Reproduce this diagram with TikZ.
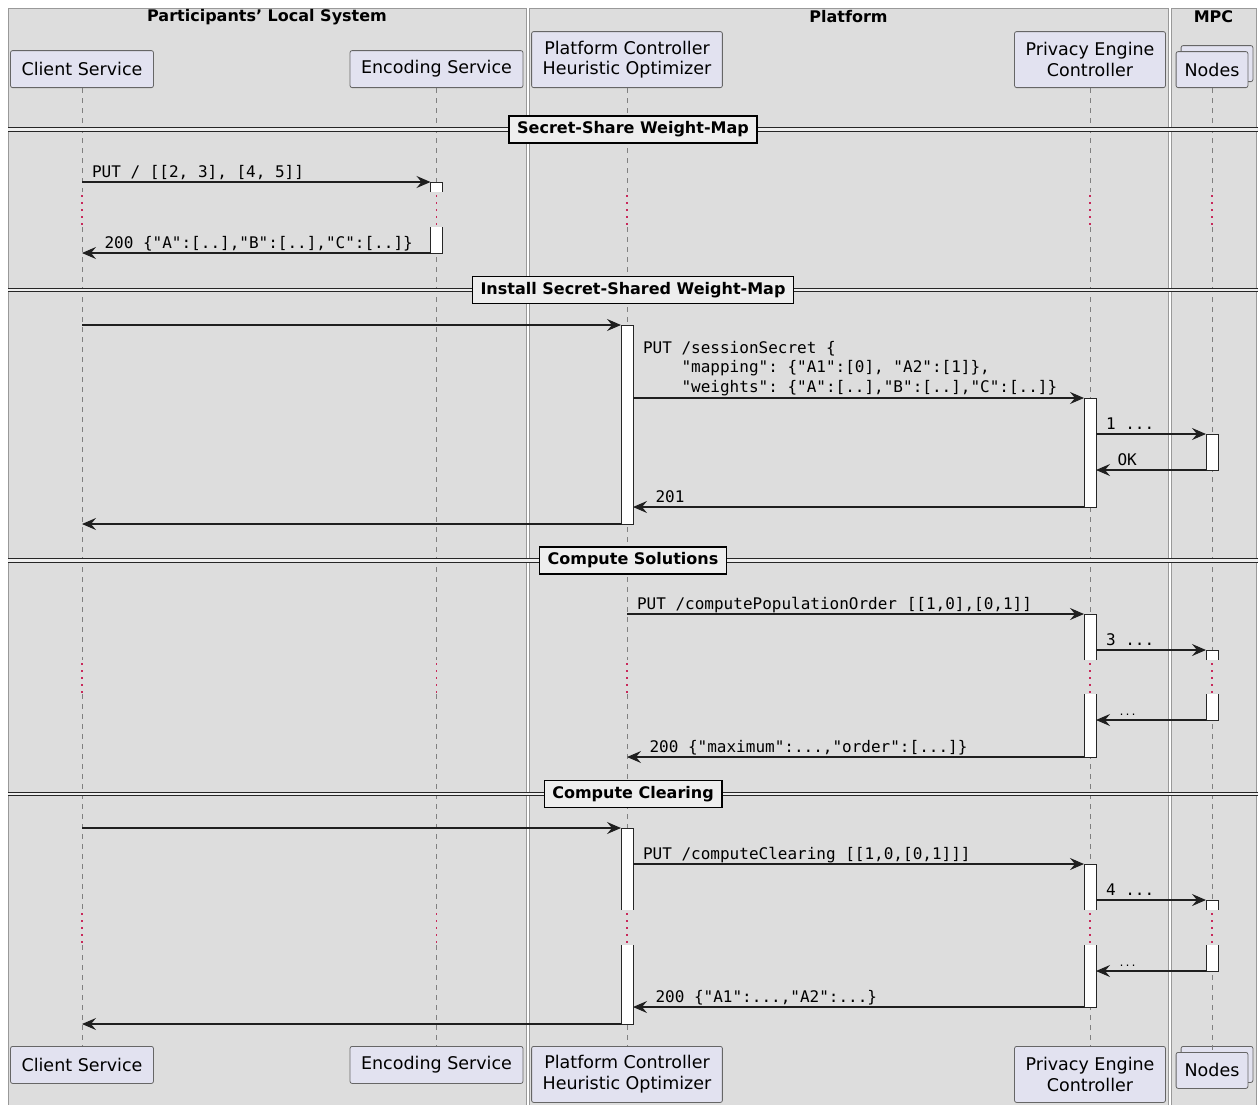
\documentclass[tikz,border=0pt]{standalone}
\usepackage{fontspec}
\setmainfont{DejaVu Sans}
\setmonofont{DejaVu Sans Mono}
\usetikzlibrary{positioning,arrows.meta,shadows}
\definecolor{grpfill}{HTML}{DDDDDD}
\definecolor{partfill}{HTML}{E2E2F0}
\definecolor{sepfill}{HTML}{EEEEEE}
\definecolor{delayred}{HTML}{C8285A}
\newcommand{\partfont}{\fontsize{17.5}{20.5}\selectfont}
\newcommand{\msgfont}{\ttfamily\fontsize{16}{19.5}\selectfont}
\newcommand{\grpfont}{\bfseries\fontsize{16}{19}\selectfont}
\tikzset{
  grp/.style={draw=black!40,fill=grpfill,line width=0.9pt},
  grptitle/.style={font=\grpfont,inner sep=0pt},
  part/.style={draw=black!60,fill=partfill,rounded corners=2pt,line width=0.8pt,font=\partfont,align=center,inner xsep=11pt,minimum height=37pt},
  life/.style={draw=black!50,line width=0.8pt,dash pattern=on 5pt off 5pt},
  delay/.style={draw=delayred,line width=1.5pt,dash pattern=on 1.5pt off 5.5pt},
  dline/.style={draw=black!85,double=sepfill,double distance=2.4pt,line width=0.9pt},
  sepbox/.style={draw=black,line width=1.6pt,fill=sepfill,font=\grpfont,minimum height=27pt,inner xsep=8pt},
  act/.style={fill=white,minimum width=12pt,inner sep=0pt,outer sep=0pt},
  actfull/.style={act,draw=black!85,line width=0.9pt},
  actline/.style={draw=black!85,line width=0.9pt},
  msg/.style={draw=black!88,line width=1.1pt,-{Stealth[length=14pt,width=12pt,inset=5pt]}},
  lbl/.style={font=\msgfont,anchor=base west,inner sep=0pt,yshift=5pt}
}

\begin{document}
\begin{tikzpicture}[x=1pt,y=-1pt]
\fill[white] (0,0) rectangle (1258,1104);
\useasboundingbox (0,0) rectangle (1258,1104);

\draw[grp] (8,8) rectangle (526,1110);
\draw[grp] (529,8) rectangle (1168,1110);
\draw[grp] (1171,8) rectangle (1256,1110);
\node[grptitle] (g1) at (267,17) {Participants’ Local System};
\node[grptitle] (g2) at (848.5,17) {Platform};
\node[grptitle] (g3) at (1213.5,17) {MPC};

\node[part,anchor=south] (cs) at (82,88) {Client Service};
\node[part,anchor=south] (es) at (436.5,88) {Encoding Service};
\node[part,anchor=south,minimum height=56pt] (pc) at (627,88) {Platform Controller\\Heuristic Optimizer};
\node[part,anchor=south,minimum height=56pt] (pe) at (1090,88) {Privacy Engine\\Controller};
\node[part,anchor=south,minimum height=36pt,inner xsep=8.5pt,copy shadow={shadow xshift=5pt,shadow yshift=6pt}] (nd) at (1212,88) {Nodes};

\node[part,anchor=north] (cs2) at (82,1046) {Client Service};
\node[part,anchor=north] (es2) at (436.5,1046) {Encoding Service};
\node[part,anchor=north,minimum height=56pt] (pc2) at (627,1046) {Platform Controller\\Heuristic Optimizer};
\node[part,anchor=north,minimum height=56pt] (pe2) at (1090,1046) {Privacy Engine\\Controller};
\node[part,anchor=north,minimum height=36pt,inner xsep=8.5pt,copy shadow={shadow xshift=5pt,shadow yshift=6pt}] (nd2) at (1212,1052) {Nodes};

\foreach \p in {cs,es,pc,pe,nd}{
  \draw[life] (\p.south) -- (\p |- 0,192) (\p |- 0,227) -- (\p |- 0,660)
    (\p |- 0,694) -- (\p |- 0,910) (\p |- 0,945) -- (\p2.north);
  \draw[delay] (\p |- 0,195) -- (\p |- 0,227) (\p |- 0,663) -- (\p |- 0,694)
    (\p |- 0,913) -- (\p |- 0,945);
}

\draw[dline] (8,129.5) -- (1258,129.5);
\node[sepbox] (s1) at (633,129.5) {Secret-Share Weight-Map};
\draw[dline] (8,290) -- (1258,290);
\node[sepbox] (s2) at (633,290) {Install Secret-Shared Weight-Map};
\draw[dline] (8,560.5) -- (1258,560.5);
\node[sepbox] (s3) at (633,560.5) {Compute Solutions};
\draw[dline] (8,794) -- (1258,794);
\node[sepbox] (s4) at (633,794) {Compute Clearing};

\node[act,minimum height=10pt] (A1) at (436.5,187) {};
\node[act,minimum height=26pt] (A2) at (436.5,240) {};
\node[actfull,minimum height=199pt] (B) at (627,424.5) {};
\node[actfull,minimum height=109pt] (C) at (1090,452.5) {};
\node[actfull,minimum height=36pt] (D) at (1212,452) {};
\node[act,minimum height=46pt] (E1) at (1090,637) {};
\node[act,minimum height=63pt] (E2) at (1090,725.5) {};
\node[act,minimum height=10pt] (F1) at (1212,655) {};
\node[act,minimum height=26pt] (F2) at (1212,707) {};
\node[act,minimum height=82pt] (G1) at (627,869) {};
\node[act,minimum height=79pt] (G2) at (627,984.5) {};
\node[act,minimum height=46pt] (H1) at (1090,887) {};
\node[act,minimum height=62pt] (H2) at (1090,976) {};
\node[act,minimum height=10pt] (I1) at (1212,905) {};
\node[act,minimum height=26pt] (I2) at (1212,958) {};
\foreach \b in {A1,E1,F1,G1,H1,I1}
  \draw[actline] (\b.south west) |- (\b.north east) -- (\b.south east);
\foreach \b in {A2,E2,F2,G2,H2,I2}
  \draw[actline] (\b.north west) |- (\b.south east) -- (\b.north east);

% Secret-Share Weight-Map
\draw[msg] (cs |- A1.north) node[lbl,xshift=9.5pt] (m1) {PUT / [[2, 3], [4, 5]]} -- (A1.north west);
\draw[msg] (A2.south west) -- (cs |- A2.south) node[lbl,xshift=22pt] (m2) {200 \{"A":[..],"B":[..],"C":[..]\}};

% Install Secret-Shared Weight-Map
\draw[msg] (cs |- B.north) -- (B.north west);
\draw[msg] (B.east |- C.north) node[font=\msgfont,anchor=south west,align=left,inner sep=0pt,xshift=9.5pt,yshift=2pt] (m4) {PUT /sessionSecret \{\\\hphantom{PUTx}"mapping": \{"A1":[0], "A2":[1]\},\\\hphantom{PUTx}"weights": \{"A":[..],"B":[..],"C":[..]\}} -- (C.north west);
\draw[msg] (C.east |- D.north) node[lbl,xshift=9.5pt] (m5) {1 ...} -- (D.north west);
\draw[msg] (D.south west) -- (C.east |- D.south) node[lbl,xshift=21pt] (m6) {OK};
\draw[msg] (C.south west) -- (B.east |- C.south) node[lbl,xshift=22pt] (m7) {201};
\draw[msg] (B.south west) -- (cs |- B.south);

% Compute Solutions
\draw[msg] (pc |- E1.north) node[lbl,xshift=9.5pt] (m9) {PUT /computePopulationOrder [[1,0],[0,1]]} -- (E1.north west);
\draw[msg] (E1.east |- F1.north) node[lbl,xshift=9.5pt] (m10) {3 ...} -- (F1.north west);
\draw[msg] (F2.south west) -- (E2.east |- F2.south) node[lbl,xshift=22pt,font=\ttfamily\fontsize{10}{12}\selectfont] (m11) {...};
\draw[msg] (E2.south west) -- (pc |- E2.south) node[lbl,xshift=22pt] (m12) {200 \{"maximum":...,"order":[...]\}};

% Compute Clearing
\draw[msg] (cs |- G1.north) -- (G1.north west);
\draw[msg] (G1.east |- H1.north) node[lbl,xshift=9.5pt] (m14) {PUT /computeClearing [[1,0,[0,1]]]} -- (H1.north west);
\draw[msg] (H1.east |- I1.north) node[lbl,xshift=9.5pt] (m15) {4 ...} -- (I1.north west);
\draw[msg] (I2.south west) -- (H2.east |- I2.south) node[lbl,xshift=22pt,font=\ttfamily\fontsize{10}{12}\selectfont] (m16) {...};
\draw[msg] (H2.south west) -- (G2.east |- H2.south) node[lbl,xshift=22pt] (m17) {200 \{"A1":...,"A2":...\}};
\draw[msg] (G2.south west) -- (cs |- G2.south);
\end{tikzpicture}
\end{document}
